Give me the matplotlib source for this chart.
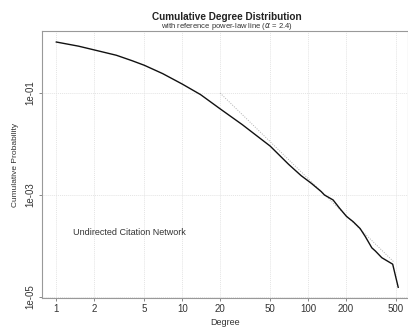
import matplotlib
matplotlib.use('Agg')
from matplotlib import pyplot as plt

plt.rcParams['font.family'] = ['Liberation Sans', 'DejaVu Sans']

degree = [1, 1.5, 2, 3, 4, 5, 7, 10, 14, 20, 30, 50, 70, 88, 106, 127, 135, 158,
          178, 202, 228, 259, 284, 321, 342, 385, 470, 520]
prob = [1.0, 0.83, 0.70, 0.55, 0.43, 0.35, 0.24, 0.15, 0.093, 0.049, 0.024,
        0.0091, 0.0040, 0.0024, 0.0017, 0.00117, 0.001, 0.0008, 0.00055,
        0.00038, 0.0003, 0.00022, 0.000155, 0.000092, 0.00008, 0.000059,
        0.000044, 0.0000155]

alpha = 2.4
ref_x = [20, 485]
ref_y = [0.1 * (x / 20) ** -alpha for x in ref_x]

x_ticks = [1, 2, 5, 10, 20, 50, 100, 200, 500]
y_ticks = [1e-1, 1e-3, 1e-5]
y_tick_labels = ['1e-01', '1e-03', '1e-05']

fig = plt.figure(figsize=(4.08, 3.27), dpi=100)
ax = fig.add_axes([0.103, 0.089, 0.897, 0.816])

ax.set_xscale('log')
ax.set_yscale('log')
ax.set_xlim(0.77, 622)
ax.set_ylim(9.6e-6, 1.64)

for x in x_ticks:
    ax.axvline(x, color='#e4e4e4', lw=0.7, ls=(0, (1, 1)), zorder=0)
for y in y_ticks:
    ax.axhline(y, color='#e4e4e4', lw=0.7, ls=(0, (1, 1)), zorder=0)

ax.plot(ref_x, ref_y, color='#b0b0b0', lw=0.7, ls=(0, (1, 1.5)))
ax.plot(degree, prob, color='#111111', lw=1.0)

ax.set_xticks(x_ticks)
ax.set_xticklabels([str(x) for x in x_ticks])
ax.set_yticks(y_ticks)
ax.set_yticklabels(y_tick_labels, rotation=90, va='center')
ax.minorticks_off()
ax.tick_params(axis='both', colors='#888888', labelcolor='#333333', labelsize=7,
               length=2.5, width=0.7, pad=2)

for side in ['left', 'bottom', 'top', 'right']:
    ax.spines[side].set_color('#999999')
    ax.spines[side].set_linewidth(0.8)

ax.set_xlabel('Degree', fontsize=6.5, color='#333333', labelpad=3)
ax.set_ylabel('Cumulative Probability', fontsize=6, color='#333333', labelpad=5)

ax.text(0.085, 0.245, 'Undirected Citation Network', transform=ax.transAxes,
        fontsize=6.5, color='#333333', va='center')

fig.text(0.557, 0.948, 'Cumulative Degree Distribution', fontsize=7.2,
         fontweight='bold', ha='center', va='center', color='#222222')
fig.text(0.557, 0.918, r'with reference power-law line ($\alpha$ = 2.4)',
         fontsize=5.5, ha='center', va='center', color='#333333')

fig.savefig('out.png', dpi=100)
